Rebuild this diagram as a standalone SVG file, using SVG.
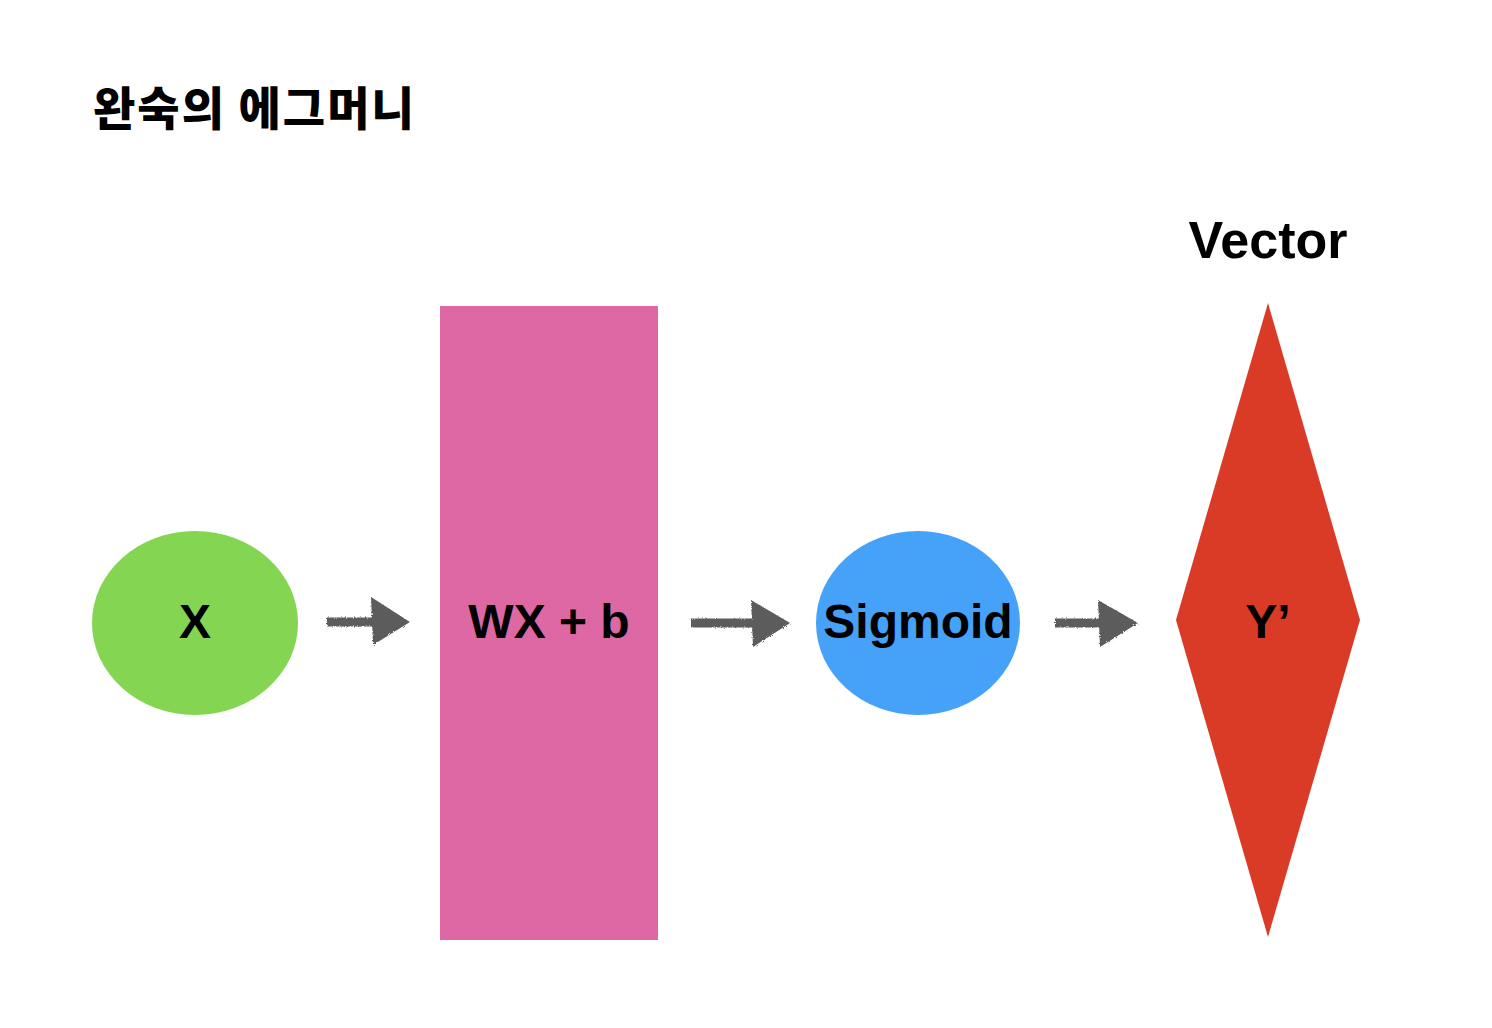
<svg xmlns="http://www.w3.org/2000/svg" width="1492" height="1028" viewBox="0 0 1492 1028">
<style>
.lbl{font-family:"Liberation Sans",Arial,sans-serif;font-weight:bold;fill:#000;text-anchor:middle}
.title{font-family:"Noto Sans CJK KR","Liberation Sans",sans-serif;font-weight:900;font-size:46px;letter-spacing:2px;fill:#000}
.shaft{stroke:#5b5b5b;stroke-width:9;fill:none}
.head{fill:#5b5b5b}
</style>
<defs>
<filter id="rough" x="-10%" y="-20%" width="120%" height="140%">
<feTurbulence type="fractalNoise" baseFrequency="0.9" numOctaves="2" result="n"/>
<feDisplacementMap in="SourceGraphic" in2="n" scale="3"/>
</filter>
</defs>
<rect width="1492" height="1028" fill="#fff"/>
<text class="title" x="93" y="125">완숙의 에그머니</text>
<g id="node-x">
<ellipse cx="195" cy="623" rx="103" ry="92" fill="#83D552"/>
<text class="lbl" x="195" y="638" font-size="48">X</text>
</g>
<g id="node-wx">
<rect x="440" y="306" width="218" height="634" fill="#DE68A4"/>
<text class="lbl" x="549" y="638" font-size="48">WX + b</text>
</g>
<g id="node-sigmoid">
<ellipse cx="918" cy="623" rx="102" ry="92" fill="#46A2F8"/>
<text class="lbl" x="918" y="638" font-size="48">Sigmoid</text>
</g>
<g id="node-y">
<polygon points="1268,303 1360,620 1268,937 1176,620" fill="#DA3B26"/>
<text class="lbl" x="1268" y="638" font-size="48">Y’</text>
</g>
<g id="label-vector">
<text class="lbl" x="1268" y="258" font-size="52">Vector</text>
</g>
<g id="connectors" filter="url(#rough)">
<line class="shaft" x1="327" y1="622" x2="375" y2="622"/>
<polygon class="head" points="371,597 410,622 373,645"/>
<line class="shaft" x1="691" y1="623" x2="755" y2="623"/>
<polygon class="head" points="751,600 790,623 753,647"/>
<line class="shaft" x1="1055" y1="623" x2="1102" y2="623"/>
<polygon class="head" points="1098,600 1138,623 1100,647"/>
</g>
</svg>
